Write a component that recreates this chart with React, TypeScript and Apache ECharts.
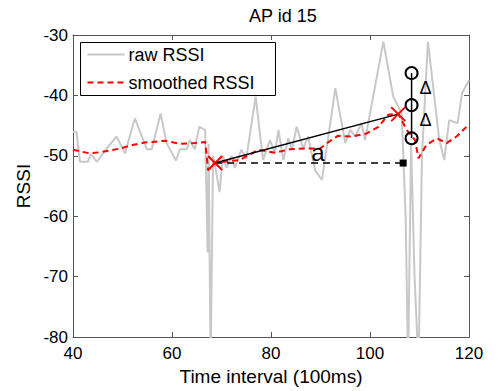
import React, { useEffect, useRef } from "react";
import * as echarts from "echarts";

// Raw RSSI samples (time in 100ms units, value in dBm)
const rawT = [40, 40.7, 41.4, 43.0, 43.6, 44.8, 46.8, 48.8, 50.5, 52.5, 54.9, 55.9, 57.7, 58.9, 60.8, 61.6, 63.0, 63.6, 64.6, 65.5, 66.7, 67.2, 67.4, 67.8, 68.3, 69.0, 69.6, 70.3, 71.0, 72.0, 72.7, 74.0, 75.0, 76.9, 78.4, 79.8, 80.8, 81.5, 82.5, 83.5, 84.2, 85.2, 86.5, 87.5, 88.9, 90.3, 93.0, 95.0, 96.0, 97.0, 98.3, 99.0, 102.7, 104.7, 106.4, 107.2, 107.7, 108.3, 109.0, 109.8, 110.5, 111.7, 114.0, 115.0, 116.0, 117.7, 118.6, 120];
const rawV = [-46, -46, -51, -51, -49.7, -51, -48.8, -46.8, -49.6, -43.8, -48.9, -48.9, -43, -47.9, -50.8, -48.9, -48.9, -47.4, -48.9, -45.2, -45.7, -66, -48, -85, -50, -53, -56, -50, -52, -50, -52, -49, -50.5, -40.2, -50.7, -47.4, -49.5, -45.7, -50.7, -47.1, -49, -45.2, -48.8, -46.8, -52.4, -54, -38.8, -47.9, -45.7, -46.8, -44.6, -47.4, -31.1, -40.2, -43, -60, -85, -48, -70, -85, -50, -31.1, -47.4, -50.7, -44.1, -44.6, -39.6, -37.5];

// Smoothed RSSI
const smT = [40, 43.4, 45.5, 49.5, 52, 54.5, 58.6, 61.6, 64.6, 66.7, 67.3, 68.7, 70.3, 73.7, 77.4, 80.8, 83.8, 86.9, 89.9, 92, 93.5, 96.5, 99.3, 101.7, 103.7, 105.7, 107.4, 109.1, 109.8, 111.4, 113.5, 115.5, 117.5, 120];
const smV = [-49, -49.6, -49.4, -48.8, -48.2, -47.8, -47.5, -48, -47.9, -47.7, -52.4, -51.2, -51, -50.7, -49, -49.5, -48.9, -48.8, -48.8, -47.5, -46.7, -46.8, -46.3, -45.2, -43.2, -43, -45.7, -47.4, -50.4, -48.2, -47.1, -47.9, -46.8, -44.8];

// Key points (red crosses), baseline end, delta circles, annotations
const keyT = [68.7, 105.7];
const keyV = [-51.2, -43.1];
const baseEndT = 106.7;
const circT = [108.4, 108.4, 108.4];
const circV = [-36.3, -41.6, -47.1];
const noteText = ["a", "Δ", "Δ"];
const noteT = [89.5, 111.2, 111.2];
const noteV = [-49.4, -38.8, -44.1];

const legendNames = ["raw RSSI", "smoothed RSSI"];

const xMin = 40, xMax = 120, xStep = 20;
const yMin = -80, yMax = -30, yStep = 10;

const FONT = "'Liberation Sans', Arial, sans-serif";
const AXIS_COLOR = "#555";
const RAW_COLOR = "#c8c8c8";
const SM_COLOR = "#ff0000";

function zip(a: number[], b: number[]) {
  return a.map((v, i) => [v, b[i]]);
}

export default function App() {
  const ref = useRef<HTMLDivElement>(null);
  useEffect(() => {
    if (!ref.current) return;
    const chart = echarts.init(ref.current, undefined, { renderer: "svg" });
    const axisCommon = {
      type: "value" as const,
      axisLine: { show: true, onZero: false, lineStyle: { color: AXIS_COLOR, width: 1 } },
      axisTick: { show: true, inside: true, length: 5, lineStyle: { color: AXIS_COLOR } },
      splitLine: { show: false },
    };
    const legendGroup = {
      id: "legend",
      type: "group",
      left: 80,
      top: 42,
      z: 100,
      children: [
        {
          type: "rect",
          shape: { x: 0, y: 0, width: 195, height: 53 },
          style: { fill: "#fff", stroke: "#000", lineWidth: 1 },
        },
        {
          type: "line",
          shape: { x1: 7, y1: 12, x2: 44, y2: 12 },
          style: { stroke: RAW_COLOR, lineWidth: 2 },
        },
        {
          type: "text",
          x: 48,
          y: 12,
          style: { text: legendNames[0], fill: "#000", font: `18px ${FONT}`, verticalAlign: "middle" },
        },
        {
          type: "line",
          shape: { x1: 7, y1: 40, x2: 44, y2: 40 },
          style: { stroke: SM_COLOR, lineWidth: 2, lineDash: [6, 4] },
        },
        {
          type: "text",
          x: 48,
          y: 40,
          style: { text: legendNames[1], fill: "#000", font: `18px ${FONT}`, verticalAlign: "middle" },
        },
      ],
    };
    chart.setOption({
      animation: false,
      backgroundColor: "#fff",
      title: {
        text: "AP id 15",
        left: 244,
        top: 2,
        textStyle: { fontFamily: FONT, fontSize: 18, fontWeight: "normal", color: "#000" },
      },
      grid: { left: 73, right: 30, top: 35, bottom: 54 },
      xAxis: [
        {
          ...axisCommon,
          min: xMin, max: xMax, interval: xStep,
          position: "bottom",
          name: "Time interval (100ms)",
          nameLocation: "middle",
          nameGap: 27,
          nameTextStyle: { fontFamily: FONT, fontSize: 19, color: "#000" },
          axisLabel: { color: "#000", fontFamily: FONT, fontSize: 17, margin: 8 },
        },
        {
          ...axisCommon,
          min: xMin, max: xMax, interval: xStep,
          position: "top",
          axisLabel: { show: false },
        },
      ],
      yAxis: [
        {
          ...axisCommon,
          min: yMin, max: yMax, interval: yStep,
          position: "left",
          name: "RSSI",
          nameLocation: "middle",
          nameGap: 38,
          nameTextStyle: { fontFamily: FONT, fontSize: 19, color: "#000" },
          axisLabel: { color: "#000", fontFamily: FONT, fontSize: 17, margin: 5 },
        },
        {
          ...axisCommon,
          min: yMin, max: yMax, interval: yStep,
          position: "right",
          axisLabel: { show: false },
        },
      ],
      graphic: [legendGroup],
      series: [
        {
          name: legendNames[0],
          type: "line",
          data: zip(rawT, rawV),
          symbol: "none",
          lineStyle: { color: RAW_COLOR, width: 2 },
          itemStyle: { color: RAW_COLOR },
          z: 1,
        },
        {
          name: legendNames[1],
          type: "line",
          data: zip(smT, smV),
          symbol: "none",
          lineStyle: { color: SM_COLOR, width: 2, type: [6, 4] },
          itemStyle: { color: SM_COLOR },
          z: 2,
        },
        {
          name: "chord",
          type: "line",
          data: zip(keyT, keyV),
          symbol: "none",
          lineStyle: { color: "#000", width: 1.5 },
          z: 3,
          silent: true,
        },
        {
          name: "baseline",
          type: "line",
          showSymbol: true,
          data: [
            { value: [keyT[0], keyV[0]], symbol: "none" },
            { value: [baseEndT, keyV[0]], symbol: "rect", symbolSize: 7 },
          ],
          itemStyle: { color: "#000" },
          lineStyle: { color: "#000", width: 1.5, type: [7, 5] },
          z: 3,
          silent: true,
        },
        {
          name: "delta",
          type: "line",
          showSymbol: true,
          data: zip(circT, circV),
          symbol: "circle",
          symbolSize: 12,
          itemStyle: { color: "none", borderColor: "#000", borderWidth: 2 },
          lineStyle: { color: "#000", width: 1.5 },
          z: 4,
          silent: true,
        },
        {
          name: "keys",
          type: "scatter",
          data: zip(keyT, keyV),
          symbol: "path://M0,0L10,10M10,0L0,10",
          symbolSize: 14,
          itemStyle: { color: "none", borderColor: SM_COLOR, borderWidth: 2, opacity: 1 },
          z: 5,
          silent: true,
        },
      ],
    });
    // Annotation texts placed through the chart's own coordinate system
    const notes = noteT.map((t, i) => {
      const [px, py] = chart.convertToPixel({ gridIndex: 0 }, [t, noteV[i]]) as number[];
      return {
        id: "note" + i,
        type: "text",
        x: px,
        y: py,
        z: 90,
        style: {
          text: noteText[i],
          fill: "#000",
          font: `${noteText[i] === "a" ? 24 : 18}px ${FONT}`,
          align: "center",
          verticalAlign: "middle",
        },
      };
    });
    chart.setOption({ graphic: [legendGroup, ...notes] });
    return () => chart.dispose();
  }, []);
  return (
    <div
      ref={ref}
      style={{ position: "fixed", left: 0, top: 0, width: 499, height: 391 }}
    />
  );
}
